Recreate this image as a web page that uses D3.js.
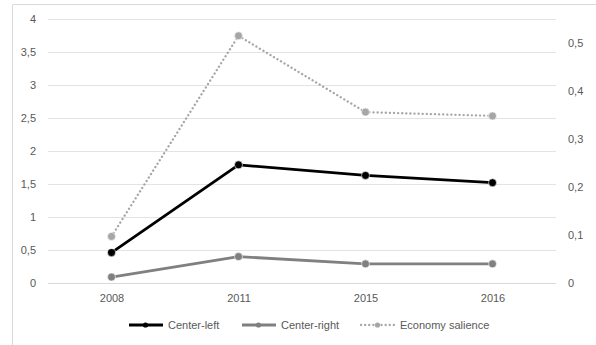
<!DOCTYPE html>
<html>
<head>
<meta charset="utf-8">
<script src="https://cdn.jsdelivr.net/npm/d3@7"></script>
<style>
  body { margin: 0; background: #fff; }
  svg { display: block; font-family: "Liberation Sans", Arial, sans-serif; }
</style>
</head>
<body>
<svg id="chart" width="596" height="345"></svg>
<script>
// Survey years and series values
const years = ["2008", "2011", "2015", "2016"];
const centerLeft = [0.46, 1.79, 1.63, 1.52];
const centerRight = [0.09, 0.40, 0.29, 0.29];
const economySalience = [0.097, 0.515, 0.356, 0.348];
const leftTicks = [0, 0.5, 1, 1.5, 2, 2.5, 3, 3.5, 4];
const rightTicks = [0, 0.1, 0.2, 0.3, 0.4, 0.5];

const svg = d3.select("#chart");
const W = 596, H = 345;
const plot = { left: 48, right: 556, top: 19, bottom: 283 };

// Outer frame (top and left edges visible)
svg.append("path")
  .attr("d", `M12.5,${H} V4.5 H${W}`)
  .attr("fill", "none")
  .attr("stroke", "#d9d9d9")
  .attr("stroke-width", 1);

const x = d3.scalePoint().domain(years).range([plot.left, plot.right]).padding(0.5);
const yL = d3.scaleLinear().domain([0, 4]).range([plot.bottom, plot.top]);
const yR = d3.scaleLinear().domain([0, 0.55]).range([plot.bottom, plot.top]);

const fmt = d => String(d).replace(".", ",");

// Horizontal gridlines from the left axis
svg.append("g")
  .selectAll("line")
  .data(leftTicks)
  .join("line")
  .attr("x1", plot.left).attr("x2", plot.right)
  .attr("y1", d => Math.round(yL(d)) + 0.5).attr("y2", d => Math.round(yL(d)) + 0.5)
  .attr("stroke", d => d === 0 ? "#d9d9d9" : "#e3e3e3")
  .attr("stroke-width", 1);

// Left axis labels
const leftAxis = svg.append("g")
  .attr("transform", `translate(${plot.left},0)`)
  .call(d3.axisLeft(yL).tickValues(leftTicks).tickFormat(fmt).tickSize(0).tickPadding(12));
leftAxis.select(".domain").remove();
leftAxis.selectAll("text").attr("fill", "#595959").style("font-size", "11px");

// Right axis labels
const rightAxis = svg.append("g")
  .attr("transform", `translate(${plot.right},0)`)
  .call(d3.axisRight(yR).tickValues(rightTicks).tickFormat(fmt).tickSize(0).tickPadding(12));
rightAxis.select(".domain").remove();
rightAxis.selectAll("text").attr("fill", "#595959").style("font-size", "11px");

// Category axis labels
const bottomAxis = svg.append("g")
  .attr("transform", `translate(0,${plot.bottom})`)
  .call(d3.axisBottom(x).tickSize(0).tickPadding(11));
bottomAxis.select(".domain").remove();
bottomAxis.selectAll("text").attr("fill", "#595959").style("font-size", "11px");

const series = [
  { name: "Center-left", values: centerLeft, y: yL, color: "#000000", width: 2.8, dash: null, marker: "#000000" },
  { name: "Center-right", values: centerRight, y: yL, color: "#808080", width: 2.8, dash: null, marker: "#808080" },
  { name: "Economy salience", values: economySalience, y: yR, color: "#a6a6a6", width: 2.3, dash: "0.1,4", marker: "#a6a6a6" }
];

series.forEach(s => {
  const line = d3.line().x((d, i) => x(years[i])).y(d => s.y(d));
  svg.append("path")
    .datum(s.values)
    .attr("d", line)
    .attr("fill", "none")
    .attr("stroke", s.color)
    .attr("stroke-width", s.width)
    .attr("stroke-dasharray", s.dash)
    .attr("stroke-linecap", s.dash ? "round" : "butt")
    .attr("stroke-linejoin", "round");
  svg.append("g")
    .selectAll("circle")
    .data(s.values)
    .join("circle")
    .attr("cx", (d, i) => x(years[i]))
    .attr("cy", d => s.y(d))
    .attr("r", 4)
    .attr("fill", s.marker)
    .attr("stroke", "#fff")
    .attr("stroke-width", 0.6);
});

// Legend
const legendY = 325;
const legendItems = [
  { s: series[0], x0: 128 },
  { s: series[1], x0: 241 },
  { s: series[2], x0: 360 }
];
legendItems.forEach(({ s, x0 }) => {
  const g = svg.append("g");
  g.append("line")
    .attr("x1", x0 + 1).attr("x2", x0 + 35)
    .attr("y1", legendY).attr("y2", legendY)
    .attr("stroke", s.color)
    .attr("stroke-width", s.width)
    .attr("stroke-dasharray", s.dash)
    .attr("stroke-linecap", s.dash ? "round" : "butt");
  g.append("circle")
    .attr("cx", x0 + 17.5).attr("cy", legendY)
    .attr("r", 2.6)
    .attr("fill", s.marker);
  g.append("text")
    .attr("x", x0 + 40).attr("y", legendY)
    .attr("dy", "0.35em")
    .attr("fill", "#595959")
    .style("font-size", "11px")
    .text(s.name);
});
</script>
</body>
</html>
